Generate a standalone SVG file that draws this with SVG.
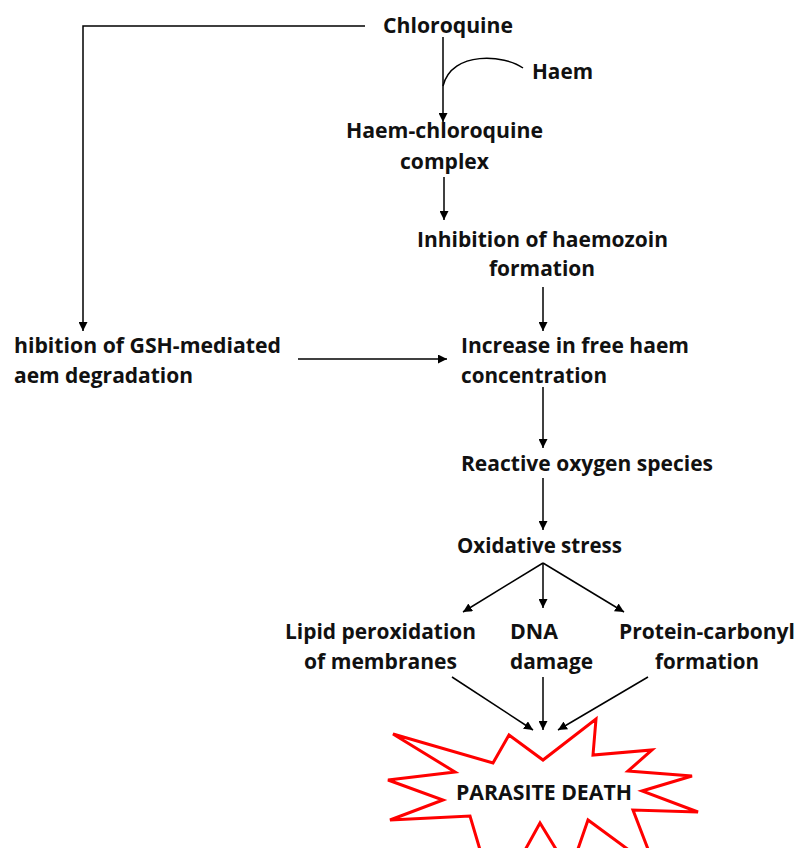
<svg xmlns="http://www.w3.org/2000/svg" width="799" height="848" viewBox="0 0 799 848">
  <defs>
    <marker id="arrow" viewBox="0 0 10 10" refX="10" refY="5" markerWidth="9" markerHeight="9" markerUnits="userSpaceOnUse" orient="auto">
      <path d="M0,0 L10,5 L0,10 z" fill="#000"/>
    </marker>
    <style>
      text { font-family: "Open Sans", "Liberation Sans", sans-serif; font-weight: bold; font-size: 21px; fill: #111; }
      .conn { stroke: #000; stroke-width: 1.5; fill: none; }
      .arr { marker-end: url(#arrow); }
      .burst { fill: #fff; stroke: #ff0000; stroke-width: 3; stroke-linejoin: miter; }
    </style>
  </defs>
  <rect width="799" height="848" fill="#fff"/>

  <!-- connectors -->
  <g id="connectors">
    <path class="conn arr" d="M365,26 H83 V331"/>
    <path class="conn arr" d="M443,37 V122"/>
    <path class="conn" d="M523,68 C505,55 452,50 443,86"/>
    <path class="conn arr" d="M444,177 V220"/>
    <path class="conn arr" d="M543,287 V331"/>
    <path class="conn arr" d="M298,359 H447"/>
    <path class="conn arr" d="M543,387 V448"/>
    <path class="conn arr" d="M543,478 V530"/>
    <path class="conn arr" d="M543,563 L463,612"/>
    <path class="conn arr" d="M543,563 V608"/>
    <path class="conn arr" d="M543,563 L624,612"/>
    <path class="conn arr" d="M452,677 L533,730"/>
    <path class="conn arr" d="M543,677 V730"/>
    <path class="conn arr" d="M648,677 L558,730"/>
  </g>

  <g id="chloroquine"><text x="383" y="33" textLength="130" lengthAdjust="spacingAndGlyphs">Chloroquine</text></g>
  <g id="haem"><text x="532" y="79" textLength="61" lengthAdjust="spacingAndGlyphs">Haem</text></g>
  <g id="complex">
    <text x="346" y="138" textLength="197" lengthAdjust="spacingAndGlyphs">Haem-chloroquine</text>
    <text x="400" y="169" textLength="89" lengthAdjust="spacingAndGlyphs">complex</text>
  </g>
  <g id="haemozoin">
    <text x="417" y="247" textLength="251" lengthAdjust="spacingAndGlyphs">Inhibition of haemozoin</text>
    <text x="489" y="276" textLength="106" lengthAdjust="spacingAndGlyphs">formation</text>
  </g>
  <g id="gsh">
    <text x="14" y="353" textLength="267" lengthAdjust="spacingAndGlyphs">hibition of GSH-mediated</text>
    <text x="14" y="383" textLength="179" lengthAdjust="spacingAndGlyphs">aem degradation</text>
  </g>
  <g id="freehaem">
    <text x="461" y="353" textLength="228" lengthAdjust="spacingAndGlyphs">Increase in free haem</text>
    <text x="461" y="383" textLength="146" lengthAdjust="spacingAndGlyphs">concentration</text>
  </g>
  <g id="ros"><text x="461" y="471" textLength="252" lengthAdjust="spacingAndGlyphs">Reactive oxygen species</text></g>
  <g id="stress"><text x="457" y="553" textLength="165" lengthAdjust="spacingAndGlyphs">Oxidative stress</text></g>
  <g id="lipid">
    <text x="285" y="639" textLength="191" lengthAdjust="spacingAndGlyphs">Lipid peroxidation</text>
    <text x="304" y="669" textLength="153" lengthAdjust="spacingAndGlyphs">of membranes</text>
  </g>
  <g id="dna">
    <text x="510" y="639" textLength="48" lengthAdjust="spacingAndGlyphs">DNA</text>
    <text x="510" y="669" textLength="83" lengthAdjust="spacingAndGlyphs">damage</text>
  </g>
  <g id="protein">
    <text x="619" y="639" textLength="176" lengthAdjust="spacingAndGlyphs">Protein-carbonyl</text>
    <text x="655" y="669" textLength="104" lengthAdjust="spacingAndGlyphs">formation</text>
  </g>
  <g id="death">
    <!-- starburst runs past the bottom edge -->
    <polygon class="burst" points="393,734 493,763 509,735 543,760 596,719 593,755 652,750 628,771 692,776 642,791 698,812 633,810 656,870 588,820 570,872 540,823 514,870 500,852 486,870 470,816 390,820 443,800 388,780 455,772"/>
    <text x="456" y="800" textLength="176" lengthAdjust="spacingAndGlyphs">PARASITE DEATH</text>
  </g>
</svg>
